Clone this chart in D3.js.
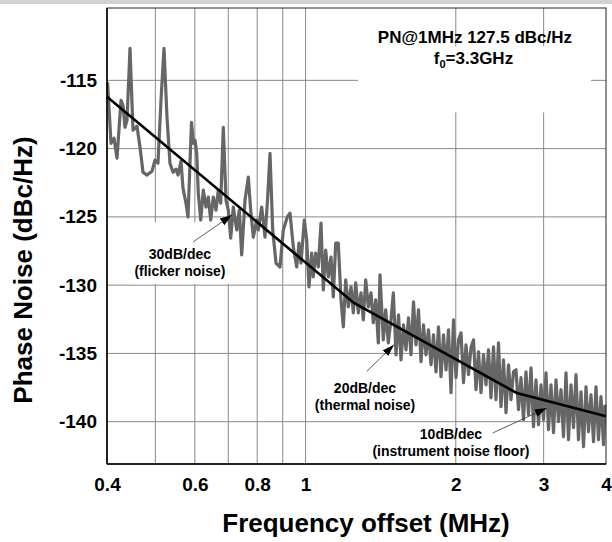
<!DOCTYPE html>
<html>
<head>
<meta charset="utf-8">
<script src="https://cdn.jsdelivr.net/npm/d3@7"></script>
<style>
  body { margin: 0; background: #fff; }
  svg { display: block; font-family: Arial, "Liberation Sans", sans-serif; }
  .tick text { font-size: 19px; font-weight: bold; fill: #000; }
  .note { font-size: 14px; font-weight: bold; fill: #000; }
</style>
</head>
<body>
<div id="chart"></div>
<script>
var traceFreq = [0.401, 0.404, 0.4075, 0.4131, 0.4189, 0.4267, 0.4306, 0.4346, 0.4387, 0.4448,
  0.4510, 0.4594, 0.4658, 0.4723, 0.4811, 0.4923, 0.4992, 0.5061, 0.5132, 0.5203,
  0.5276, 0.5349, 0.5424, 0.5500, 0.5551, 0.5628, 0.5680, 0.5759, 0.5813, 0.5907,
  0.5962, 0.6004, 0.6051, 0.6096, 0.6164, 0.6238, 0.6316, 0.6384, 0.6455, 0.6533,
  0.6615, 0.6685, 0.6760, 0.6841, 0.6927, 0.7001, 0.7079, 0.7164, 0.7278, 0.7365,
  0.7447, 0.7562, 0.7678, 0.7763, 0.7857, 0.7981, 0.8040, 0.8167, 0.8293, 0.8389,
  0.8486, 0.8593, 0.8724, 0.8887, 0.9023, 0.9192, 0.9307, 0.9450, 0.9599, 0.9701,
  0.9791, 0.9942, 1.0052, 1.0160, 1.0287, 1.0363, 1.0479, 1.0605, 1.0738, 1.0853,
  1.0973, 1.1106, 1.1245, 1.1365, 1.1492, 1.1630, 1.1776, 1.1902, 1.2034, 1.2180,
  1.2332, 1.2464, 1.2603, 1.2755, 1.2915, 1.3053, 1.3198, 1.3357, 1.3525, 1.3669,
  1.3821, 1.3988, 1.4098, 1.4315, 1.4474, 1.4649, 1.4832, 1.4991, 1.5179, 1.5355,
  1.5533, 1.5713, 1.5895, 1.6080, 1.6266, 1.6455, 1.6646, 1.6839, 1.7035, 1.7232,
  1.7432, 1.7634, 1.7839, 1.8046, 1.8255, 1.8467, 1.8682, 1.8898, 1.9117, 1.9339,
  1.9564, 1.9791, 2.0020, 2.0253, 2.0488, 2.0725, 2.0966, 2.1209, 2.1455, 2.1704,
  2.1956, 2.2211, 2.2468, 2.2729, 2.2993, 2.3259, 2.3529, 2.3802, 2.4078, 2.4358,
  2.4640, 2.4926, 2.5216, 2.5508, 2.5804, 2.6103, 2.6406, 2.6713, 2.7023, 2.7336,
  2.7653, 2.7974, 2.8299, 2.8627, 2.8959, 2.9295, 2.9635, 2.9979, 3.0327, 3.0679,
  3.1035, 3.1395, 3.1759, 3.2127, 3.2500, 3.2877, 3.3259, 3.3645, 3.4035, 3.4430,
  3.4829, 3.5233, 3.5642, 3.6056, 3.6474, 3.6897, 3.7325, 3.7759, 3.8197, 3.8640,
  3.9088, 3.9542, 3.9816];
var tracePN = [-115.15, -117.19, -119.61, -119.24, -120.70, -116.46, -116.83, -118.44, -117.92, -112.66,
  -118.65, -118.36, -119.90, -121.73, -121.94, -121.65, -120.85, -121.07, -116.46, -112.66,
  -117.70, -121.07, -121.73, -121.51, -121.94, -120.92, -122.89, -123.99, -125.01, -118.07,
  -119.61, -119.39, -120.34, -123.26, -125.23, -123.04, -124.28, -123.55, -125.23, -123.55,
  -124.50, -123.04, -123.99, -118.44, -123.77, -124.50, -126.55, -124.28, -125.96, -124.50,
  -127.79, -123.77, -122.09, -124.50, -126.48, -125.23, -125.96, -124.28, -126.48, -123.77,
  -120.34, -125.96, -128.38, -128.67, -125.96, -125.01, -124.72, -127.21, -128.67, -126.92,
  -128.38, -125.23, -126.70, -130.13, -127.65, -129.40, -127.65, -128.67, -125.45, -130.35,
  -127.43, -129.40, -127.94, -130.86, -126.92, -126.92, -131.08, -133.06, -129.62, -131.59,
  -130.13, -132.03, -129.84, -132.03, -130.57, -132.54, -129.62, -131.59, -130.57, -132.76,
  -131.08, -134.23, -129.25, -134.01, -131.81, -134.23, -132.54, -130.57, -135.10, -132.18,
  -135.47, -132.91, -134.74, -132.40, -135.10, -131.23, -134.37, -131.81, -135.61, -132.91,
  -135.10, -133.27, -135.83, -133.64, -136.35, -133.06, -136.71, -133.64, -136.20, -133.27,
  -137.88, -132.54, -136.78, -134.01, -133.49, -137.15, -134.37, -136.56, -134.59, -134.01,
  -137.66, -134.88, -137.88, -135.10, -137.30, -134.74, -138.25, -134.52, -138.39, -134.23,
  -138.90, -135.47, -139.34, -135.83, -138.39, -136.35, -136.20, -139.12, -136.78, -139.85,
  -136.35, -139.49, -136.05, -140.37, -136.93, -140.22, -137.30, -139.85, -136.42, -140.58,
  -137.30, -140.80, -136.93, -140.00, -137.66, -141.10, -136.42, -141.32, -137.30, -140.44,
  -136.56, -141.32, -137.81, -141.83, -137.44, -140.73, -138.03, -141.46, -137.44, -141.32,
  -138.17, -141.68, -138.76];

// piecewise fit: 30, 20, 10 dB/dec
var fitFreq = [0.4, 1.25, 2.65, 4];
var fitPN = [-116.2, -131.3, -137.9, -139.6];

var xTicks = [0.4, 0.6, 0.8, 1, 2, 3, 4];
var xTickLabels = ["0.4", "0.6", "0.8", "1", "2", "3", "4"];
var xGrid = [0.5, 0.6, 0.7, 0.8, 0.9, 1, 2, 3];
var yTicks = [-115, -120, -125, -130, -135, -140];

var width = 612, height = 542;
var margin = {top: 8, right: 6, bottom: 78, left: 107};
var w = width - margin.left - margin.right, h = height - margin.top - margin.bottom;

var svg = d3.select("#chart").append("svg")
  .attr("width", width)
  .attr("height", height);

// grey strip along the top of the picture
svg.append("rect").attr("x", 0).attr("y", 0).attr("width", width).attr("height", 4).attr("fill", "#d2d2d2");

var defs = svg.append("defs");
defs.append("marker")
  .attr("id", "arrow")
  .attr("markerUnits", "userSpaceOnUse")
  .attr("viewBox", "0 0 12 8")
  .attr("refX", 12).attr("refY", 4)
  .attr("markerWidth", 12).attr("markerHeight", 8)
  .attr("orient", "auto")
  .append("path").attr("d", "M0,0L12,4L0,8Z").attr("fill", "#000");

var g = svg.append("g").attr("transform", "translate(" + margin.left + "," + margin.top + ")");

var x = d3.scaleLog().domain([0.4, 4]).range([0, w]);
var y = d3.scaleLinear().domain([-143.1, -109.7]).range([h, 0]);

// grid
g.selectAll(".vgrid").data(xGrid).enter().append("line")
  .attr("x1", d => x(d)).attr("x2", d => x(d))
  .attr("y1", 0).attr("y2", h)
  .attr("stroke", "#888").attr("stroke-width", 1);
g.selectAll(".hgrid").data(yTicks).enter().append("line")
  .attr("x1", 0).attr("x2", w)
  .attr("y1", d => y(d)).attr("y2", d => y(d))
  .attr("stroke", "#888").attr("stroke-width", 1);

// white label backgrounds
g.append("rect")
  .attr("x", x(0.5) - 25).attr("y", y(-125.4))
  .attr("width", x(0.71) - x(0.5) + 25).attr("height", y(-130.0) - y(-125.4) - 1)
  .attr("fill", "#fff");
g.append("rect")
  .attr("x", x(1.274)).attr("y", y(-112.5))
  .attr("width", x(3.733) - x(1.274)).attr("height", y(-117.35) - y(-112.5))
  .attr("fill", "#fff");

// trace and fit
var line = d3.line().x(d => x(d[0])).y(d => y(d[1]));
g.append("path")
  .attr("d", line(traceFreq.map((f, i) => [f, tracePN[i]])))
  .attr("fill", "none")
  .attr("stroke", "#666")
  .attr("stroke-width", 3.2)
  .attr("stroke-linejoin", "round");
g.append("path")
  .attr("d", line(fitFreq.map((f, i) => [f, fitPN[i]])))
  .attr("fill", "none")
  .attr("stroke", "#000")
  .attr("stroke-width", 2.6);

// frame
g.append("rect").attr("x", 0).attr("y", 0).attr("width", w).attr("height", h)
  .attr("fill", "none").attr("stroke", "#222").attr("stroke-width", 1);
g.append("line").attr("x1", 0).attr("x2", 0).attr("y1", 0).attr("y2", h).attr("stroke", "#000").attr("stroke-width", 1.5);
g.append("line").attr("x1", 0).attr("x2", w).attr("y1", h).attr("y2", h).attr("stroke", "#000").attr("stroke-width", 1.5);

// axes
var xAxis = g.append("g")
  .attr("transform", "translate(0," + h + ")")
  .call(d3.axisBottom(x).tickValues(xTicks).tickFormat((d, i) => xTickLabels[i]).tickSize(0).tickPadding(14));
xAxis.select(".domain").remove();
var yAxis = g.append("g")
  .call(d3.axisLeft(y).tickValues(yTicks).tickFormat(d => String(d)).tickSize(0).tickPadding(10));
yAxis.select(".domain").remove();

svg.append("text")
  .attr("x", 366).attr("y", 532)
  .attr("text-anchor", "middle")
  .style("font-size", "26px").style("font-weight", "bold")
  .text("Frequency offset (MHz)");
svg.append("text")
  .attr("transform", "translate(32,270) rotate(-90)")
  .attr("text-anchor", "middle")
  .style("font-size", "26px").style("font-weight", "bold")
  .text("Phase Noise (dBc/Hz)");

// annotations
var notes = [
  {lines: ["30dB/dec", "(flicker noise)"], f: 0.560, pn: -128.08, from: [0.5948, -126.84], to: [0.712, -124.87]},
  {lines: ["20dB/dec", "(thermal noise)"], f: 1.3155, pn: -137.88, from: [1.326, -136.32], to: [1.504, -134.37]},
  {lines: ["10dB/dec", "(instrument noise floor)"], f: 1.956, pn: -141.24, from: [2.371, -140.83], to: [3.042, -139.0]}
];
notes.forEach(function(n){
  g.append("line")
    .attr("x1", x(n.from[0])).attr("y1", y(n.from[1]))
    .attr("x2", x(n.to[0])).attr("y2", y(n.to[1]))
    .attr("stroke", "#333").attr("stroke-width", 0.8)
    .attr("marker-end", "url(#arrow)");
  n.lines.forEach(function(t, k){
    g.append("text").attr("class", "note")
      .attr("x", x(n.f)).attr("y", y(n.pn) + k * 17)
      .attr("text-anchor", "middle")
      .text(t);
  });
});

var info = g.append("text")
  .attr("text-anchor", "middle")
  .style("font-size", "17px").style("font-weight", "bold");
info.append("tspan").attr("x", x(2.185)).attr("y", y(-112.25)).text("PN@1MHz 127.5 dBc/Hz");
var l2 = info.append("tspan").attr("x", x(2.17)).attr("y", y(-113.8));
l2.append("tspan").text("f");
l2.append("tspan").attr("dy", 4).style("font-size", "11px").text("0");
l2.append("tspan").attr("dy", -4).text("=3.3GHz");
</script>
</body>
</html>
